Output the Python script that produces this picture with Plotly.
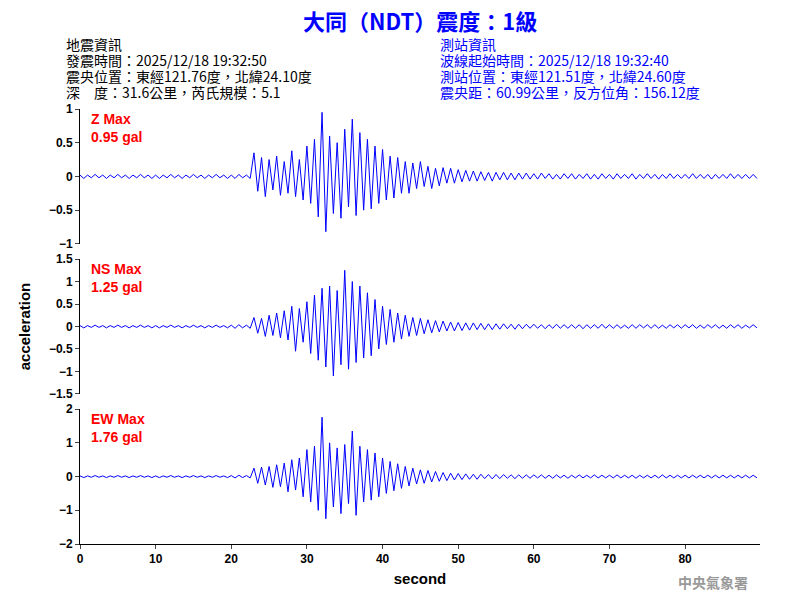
import numpy as np
import plotly.graph_objects as go
from plotly.subplots import make_subplots

# time axis, 0.5 s sampling
t = np.arange(0, 90, 0.5)

noise = [0.02, -0.03, 0.02, -0.02, 0.03, -0.02, 0.02, -0.03, 0.02, -0.02,
         0.03, -0.02, 0.02, -0.03, 0.02, -0.02, 0.03, -0.02, 0.02, -0.03]

z_acc = noise + noise + [
    0.02, -0.03, 0.03, -0.02, 0.02, -0.03, 0.35, -0.22, 0.28, -0.30, 0.25, -0.20, 0.30, -0.28, 0.22, -0.25, 0.38, -0.30, 0.25, -0.35,
    0.45, -0.40, 0.55, -0.60, 0.95, -0.82, 0.60, -0.55, 0.50, -0.62, 0.70, -0.45, 0.85, -0.58, 0.65, -0.50, 0.55, -0.48, 0.45, -0.40,
    0.40, -0.35, 0.30, -0.32, 0.28, -0.25, 0.22, -0.25, 0.20, -0.18, 0.22, -0.15, 0.15, -0.18, 0.12, -0.14, 0.13, -0.10, 0.12, -0.10,
    0.10, -0.08, 0.09, -0.07, 0.08, -0.07, 0.07, -0.06, 0.06, -0.07, 0.06, -0.05, 0.06, -0.05, 0.05, -0.05, 0.05, -0.04, 0.05, -0.04,
    0.04, -0.04, 0.05, -0.03, 0.04, -0.04, 0.03, -0.04, 0.04, -0.03, 0.04, -0.04, 0.03, -0.03, 0.04, -0.04, 0.03, -0.04, 0.04, -0.03,
    0.03, -0.04, 0.04, -0.03, 0.03, -0.03, 0.04, -0.04, 0.03, -0.03, 0.04, -0.03, 0.03, -0.04, 0.03, -0.03, 0.04, -0.03, 0.03, -0.03,
    0.03, -0.03, 0.04, -0.03, 0.03, -0.03, 0.03, -0.04, 0.03, -0.03, 0.03, -0.03, 0.04, -0.03, 0.03, -0.03, 0.03, -0.03, 0.03, -0.03,
]

ns_acc = noise + noise + [
    0.03, -0.04, 0.04, -0.03, 0.03, -0.04, 0.20, -0.15, 0.18, -0.22, 0.25, -0.20, 0.30, -0.25, 0.35, -0.30, 0.45, -0.55, 0.40, -0.35,
    0.55, -0.60, 0.70, -0.75, 0.85, -0.90, 0.90, -1.10, 0.80, -0.85, 1.25, -0.95, 1.00, -0.80, 0.90, -0.70, 0.75, -0.65, 0.60, -0.50,
    0.45, -0.40, 0.38, -0.35, 0.30, -0.28, 0.25, -0.22, 0.20, -0.20, 0.18, -0.16, 0.15, -0.14, 0.13, -0.12, 0.12, -0.10, 0.10, -0.10,
    0.09, -0.09, 0.08, -0.08, 0.08, -0.07, 0.07, -0.07, 0.06, -0.07, 0.06, -0.06, 0.06, -0.05, 0.05, -0.06, 0.05, -0.05, 0.05, -0.04,
    0.05, -0.04, 0.04, -0.05, 0.04, -0.04, 0.05, -0.04, 0.04, -0.04, 0.04, -0.04, 0.04, -0.05, 0.04, -0.04, 0.04, -0.04, 0.05, -0.04,
    0.04, -0.04, 0.04, -0.04, 0.03, -0.04, 0.04, -0.04, 0.04, -0.03, 0.04, -0.04, 0.04, -0.04, 0.03, -0.04, 0.04, -0.03, 0.04, -0.04,
    0.04, -0.03, 0.04, -0.04, 0.03, -0.04, 0.04, -0.03, 0.04, -0.04, 0.03, -0.04, 0.04, -0.03, 0.04, -0.04, 0.03, -0.03, 0.04, -0.03,
]

ew_acc = noise + noise + [
    0.03, -0.04, 0.04, -0.03, 0.03, -0.04, 0.25, -0.20, 0.28, -0.25, 0.30, -0.32, 0.35, -0.30, 0.40, -0.45, 0.50, -0.40, 0.55, -0.60,
    0.80, -0.75, 0.90, -1.00, 1.76, -1.25, 1.00, -0.90, 0.85, -1.10, 0.95, -0.80, 1.35, -1.15, 0.90, -0.75, 0.80, -0.70, 0.70, -0.60,
    0.55, -0.50, 0.45, -0.42, 0.38, -0.35, 0.30, -0.28, 0.25, -0.22, 0.20, -0.20, 0.18, -0.16, 0.15, -0.14, 0.12, -0.12, 0.10, -0.10,
    0.09, -0.09, 0.08, -0.08, 0.07, -0.08, 0.07, -0.06, 0.06, -0.07, 0.06, -0.06, 0.06, -0.05, 0.05, -0.06, 0.05, -0.05, 0.05, -0.05,
    0.05, -0.04, 0.05, -0.05, 0.04, -0.05, 0.05, -0.04, 0.04, -0.05, 0.04, -0.04, 0.05, -0.04, 0.04, -0.04, 0.05, -0.04, 0.04, -0.04,
    0.04, -0.04, 0.05, -0.04, 0.04, -0.04, 0.04, -0.05, 0.04, -0.04, 0.04, -0.04, 0.04, -0.04, 0.05, -0.04, 0.04, -0.04, 0.04, -0.04,
    0.04, -0.04, 0.04, -0.04, 0.04, -0.04, 0.04, -0.04, 0.04, -0.04, 0.04, -0.04, 0.04, -0.04, 0.04, -0.04, 0.04, -0.04, 0.04, -0.04,
]

channels = ['Z', 'NS', 'EW']
max_labels = ['0.95 gal', '1.25 gal', '1.76 gal']
y_ranges = [[-1, 1], [-1.5, 1.5], [-2, 2]]
y_dticks = [0.5, 0.5, 1]

eq_info = ['地震資訊', '發震時間：2025/12/18 19:32:50', '震央位置：東經121.76度，北緯24.10度',
           '深　度：31.6公里，芮氏規模：5.1']
st_info = ['測站資訊', '波線起始時間：2025/12/18 19:32:40', '測站位置：東經121.51度，北緯24.60度',
           '震央距：60.99公里，反方位角：156.12度']

cjk = 'Noto Sans CJK TC'
tickfont = dict(size=12, family='Liberation Sans', color='black')
fig = make_subplots(rows=3, cols=1, shared_xaxes=True, vertical_spacing=0.035)

for i, acc in enumerate([z_acc, ns_acc, ew_acc]):
    fig.add_trace(go.Scatter(x=t, y=acc, mode='lines', line=dict(color='blue', width=1),
                             showlegend=False), row=i + 1, col=1)
    fig.update_yaxes(range=y_ranges[i], dtick=y_dticks[i], row=i + 1, col=1)
    yref = 'y' if i == 0 else f'y{i + 1}'
    fig.add_annotation(x=1.2, y=y_ranges[i][1], xref='x', yref=yref, xanchor='left', yanchor='top',
                       text=f'<b>{channels[i]} Max<br>{max_labels[i]}</b>', showarrow=False, align='left',
                       font=dict(color='red', size=14, family='Liberation Sans'))

# axes styling
fig.update_yaxes(showline=True, linecolor='black', linewidth=1, ticks='outside', ticklen=4, automargin=False,
                 showgrid=False, zeroline=False, tickfont=tickfont, tickprefix='<b>', ticksuffix='</b>')
fig.update_xaxes(range=[0, 89.9], showgrid=False, zeroline=False, showline=False, automargin=False)
fig.update_xaxes(showline=True, linecolor='black', linewidth=1, ticks='outside', ticklen=4, dtick=10,
                 tickfont=tickfont, tickprefix='<b>', ticksuffix='</b>',
                 title=dict(text='<b>second</b>', font=dict(size=15, family='Liberation Sans', color='black'), standoff=8),
                 row=3, col=1)
fig.update_layout(yaxis2_title=dict(text='<b>acceleration</b>', font=dict(size=15, family='Liberation Sans', color='black'),
                                    standoff=14))

fig.add_annotation(x=0.5, y=1.205, xref='paper', yref='paper', yanchor='middle', showarrow=False,
                   text='<b>大同（NDT）震度：1級</b>', font=dict(size=22, color='blue', family=cjk))

# info block, one annotation per line
line_y = [1.149, 1.112, 1.075, 1.038]
for k in range(4):
    fig.add_annotation(x=-0.024, y=line_y[k], xref='paper', yref='paper', xanchor='left', yanchor='middle',
                       showarrow=False, text=eq_info[k], font=dict(size=14, color='black', family=cjk))
    fig.add_annotation(x=0.527, y=line_y[k], xref='paper', yref='paper', xanchor='left', yanchor='middle',
                       showarrow=False, text=st_info[k], font=dict(size=14, color='blue', family=cjk))

fig.add_annotation(x=0.985, y=-0.06, xref='paper', yref='paper', xanchor='right', yanchor='top', showarrow=False,
                   text='<b>中央氣象署</b>', font=dict(size=14, color='#999999', family=cjk))

fig.update_layout(width=800, height=600, plot_bgcolor='white', paper_bgcolor='white',
                  margin=dict(l=72, r=48, t=101, b=64))

fig.write_html('out.html')
